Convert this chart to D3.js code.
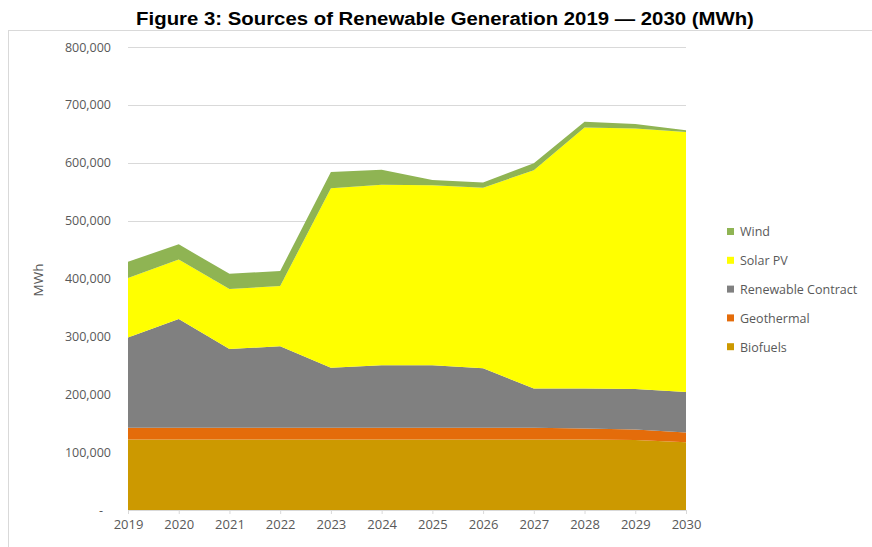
<!DOCTYPE html>
<html>
<head>
<meta charset="utf-8">
<script src="https://cdn.jsdelivr.net/npm/d3@7"></script>
<style>
  html, body { margin: 0; padding: 0; background: #fff; }
  svg { display: block; }
</style>
</head>
<body>
<svg id="chart" width="872" height="547"></svg>
<script>
const years = [2019, 2020, 2021, 2022, 2023, 2024, 2025, 2026, 2027, 2028, 2029, 2030];
const biofuels = [122000, 122000, 122000, 122000, 122000, 122000, 122000, 122000, 122000, 122000, 121000, 117000];
const geothermal = [20000, 20000, 20000, 20000, 20000, 20000, 20000, 20000, 20000, 19000, 18000, 17000];
const renewableContract = [156000, 188000, 136000, 141000, 104000, 108000, 108000, 103000, 68000, 69000, 70000, 70000];
const solarPV = [103000, 103000, 104000, 104000, 310000, 312000, 311000, 312000, 377000, 451000, 450000, 449000];
const wind = [28000, 26000, 26000, 26000, 28000, 26000, 9000, 9000, 12000, 10000, 8000, 3000];
const seriesNames = ["Biofuels", "Geothermal", "Renewable Contract", "Solar PV", "Wind"];
const seriesColors = ["#CC9900", "#E46C0A", "#808080", "#FFFF00", "#8FB453"];
const yTicks = [0, 100000, 200000, 300000, 400000, 500000, 600000, 700000, 800000];
const titleText = "Figure 3: Sources of Renewable Generation 2019 \u2014 2030 (MWh)";
const yAxisTitle = "MWh";

const svg = d3.select("#chart");
const textColor = "#595959";
const font = "'Open Sans', sans-serif";

// outer frame
svg.append("rect").attr("x", 8.5).attr("y", 30.5).attr("width", 900).attr("height", 560)
  .attr("fill", "#fff").attr("stroke", "#d9d9d9").attr("stroke-width", 1);

// title
const title = svg.append("text").attr("x", 445).attr("y", 25).attr("text-anchor", "middle")
  .attr("font-family", "'Liberation Sans', Arial, sans-serif").attr("font-weight", "bold")
  .attr("font-size", 19).attr("fill", "#000").text(titleText);
const tw = title.node().getComputedTextLength();
const targetW = 618;
title.attr("transform", `translate(445,0) scale(${targetW / tw},1) translate(-445,0)`);

const x = d3.scalePoint().domain(years).range([128, 686]);
const y = d3.scaleLinear().domain([0, 800000]).range([510, 47]);

// gridlines
svg.append("g").selectAll("line").data(yTicks.filter(d => d > 0)).join("line")
  .attr("x1", 128).attr("x2", 686)
  .attr("y1", d => Math.round(y(d)) + 0.5).attr("y2", d => Math.round(y(d)) + 0.5)
  .attr("stroke", "#d9d9d9").attr("stroke-width", 1);

// stacked areas
const table = years.map((yr, i) => ({
  year: yr,
  "Biofuels": biofuels[i],
  "Geothermal": geothermal[i],
  "Renewable Contract": renewableContract[i],
  "Solar PV": solarPV[i],
  "Wind": wind[i]
}));
const stack = d3.stack().keys(seriesNames)(table);
const area = d3.area().x(d => x(d.data.year)).y0(d => y(d[0])).y1(d => y(d[1]));
svg.append("g").selectAll("path").data(stack).join("path")
  .attr("d", area).attr("fill", (d, i) => seriesColors[i]);

// y axis labels
const yAxis = d3.axisLeft(y).tickValues(yTicks).tickSize(0).tickPadding(0)
  .tickFormat(d => d === 0 ? "-" : d3.format(",")(d));
const yg = svg.append("g").attr("transform", "translate(111,0)").call(yAxis);
yg.select(".domain").remove();
yg.selectAll("text").attr("font-family", font).attr("font-size", 12.5).attr("fill", textColor)
  .attr("dx", d => d === 0 ? -8 : 0);

// x axis
const xAxis = d3.axisBottom(x).tickSize(4).tickPadding(6);
const xg = svg.append("g").attr("transform", "translate(0,510)").call(xAxis);
xg.select(".domain").attr("stroke", "#d9d9d9").attr("d", "M128,0.5H686");
xg.selectAll(".tick line").attr("stroke", "#d9d9d9");
xg.selectAll("text").attr("font-family", font).attr("font-size", 13).attr("fill", textColor);

// y axis title
svg.append("text").attr("transform", "translate(43,280) rotate(-90)")
  .attr("text-anchor", "middle").attr("font-family", font).attr("font-size", 13.5)
  .attr("fill", textColor).text(yAxisTitle);

// legend
const legendOrder = [4, 3, 2, 1, 0];
const lg = svg.append("g").selectAll("g").data(legendOrder).join("g")
  .attr("transform", (d, i) => `translate(727,${232 + i * 28.8})`);
lg.append("rect").attr("x", 0).attr("y", -4).attr("width", 7).attr("height", 7)
  .attr("fill", d => seriesColors[d]);
lg.append("text").attr("x", 13).attr("y", 0).attr("dy", "0.35em")
  .attr("font-family", font).attr("font-size", 12.5).attr("fill", textColor)
  .text(d => seriesNames[d]);
</script>
</body>
</html>
